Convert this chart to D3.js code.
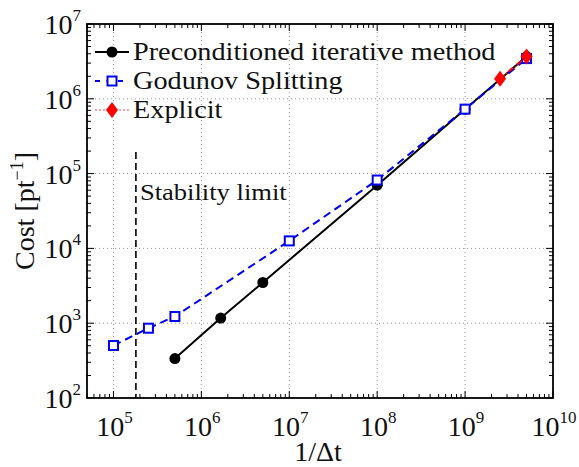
<!DOCTYPE html>
<html><head><meta charset="utf-8">
<script src="https://cdn.jsdelivr.net/npm/d3@7/dist/d3.min.js"></script>
<style>body{margin:0;background:#fff}svg{display:block}text{font-family:"Liberation Serif","Times New Roman",serif;fill:#111}</style>
</head><body><svg id="c" width="579" height="467"></svg>
<script>
const precondX = [5e5, 1.66e6, 5e6, 1e8, 1e9, 5e9];
const precondY = [337, 1170, 3500, 70000, 727000, 3.67e6];
const godunovX = [1e5, 2.5e5, 5e5, 1e7, 1e8, 1e9, 5e9];
const godunovY = [503, 857, 1230, 12600, 82000, 727000, 3.45e6];
const explicitX = [2.5e9, 5e9];
const explicitY = [1.85e6, 3.67e6];
const stabilityX = 1.8e5;
const stabilityTop = 1.95e5;
const xDecades = [5, 6, 7, 8, 9, 10];
const yDecades = [2, 3, 4, 5, 6, 7];
const legendLabels = ["Preconditioned iterative method", "Godunov Splitting", "Explicit"];

const svg = d3.select("#c");
const L = 87, R = 553, T = 24, B = 398;
const x = d3.scaleLog().domain([5e4, 1e10]).range([L, R]);
const y = d3.scaleLog().domain([1e2, 1e7]).range([B, T]);
const stretch = sel => { const n = sel.node(); const w = n.getComputedTextLength(); sel.attr("textLength", w * 1.13).attr("lengthAdjust", "spacingAndGlyphs"); return sel; };

// grid
const g = svg.append("g");
xDecades.forEach(d => { const v = Math.pow(10, d); if (v < 1e10) g.append("line").attr("x1", x(v)).attr("x2", x(v)).attr("y1", T).attr("y2", B).attr("stroke", "#999").attr("stroke-width", 1).attr("stroke-dasharray", "1,3"); });
yDecades.forEach(d => { const v = Math.pow(10, d); if (d > 2 && d < 7) g.append("line").attr("x1", L).attr("x2", R).attr("y1", y(v)).attr("y2", y(v)).attr("stroke", "#999").attr("stroke-width", 1).attr("stroke-dasharray", "1,3"); });

// ticks (inward, all four sides)
const isMajor = v => Math.abs(Math.log10(v) - Math.round(Math.log10(v))) < 1e-9;
x.ticks().forEach(v => {
  const len = isMajor(v) ? 7 : 4;
  g.append("line").attr("x1", x(v)).attr("x2", x(v)).attr("y1", B).attr("y2", B - len).attr("stroke", "#000").attr("stroke-width", 1);
  g.append("line").attr("x1", x(v)).attr("x2", x(v)).attr("y1", T).attr("y2", T + len).attr("stroke", "#000").attr("stroke-width", 1);
});
y.ticks().forEach(v => {
  const len = isMajor(v) ? 7 : 4;
  g.append("line").attr("y1", y(v)).attr("y2", y(v)).attr("x1", L).attr("x2", L + len).attr("stroke", "#000").attr("stroke-width", 1);
  g.append("line").attr("y1", y(v)).attr("y2", y(v)).attr("x1", R).attr("x2", R - len).attr("stroke", "#000").attr("stroke-width", 1);
});

// stability limit
svg.append("line").attr("x1", x(stabilityX)).attr("x2", x(stabilityX)).attr("y1", y(stabilityTop)).attr("y2", B)
  .attr("stroke", "#000").attr("stroke-width", 1.6).attr("stroke-dasharray", "7,4");
stretch(svg.append("text").attr("x", x(stabilityX) + 4).attr("y", 200).attr("font-size", 23.5).text("Stability limit"));

// lines
const line = d3.line().x(d => x(d[0])).y(d => y(d[1]));
const pre = precondX.map((v, i) => [v, precondY[i]]);
const god = godunovX.map((v, i) => [v, godunovY[i]]);
const exp = explicitX.map((v, i) => [v, explicitY[i]]);
svg.append("path").attr("d", line(pre)).attr("fill", "none").attr("stroke", "#000").attr("stroke-width", 2);
svg.selectAll(".pc").data(pre).join("circle").attr("cx", d => x(d[0])).attr("cy", d => y(d[1])).attr("r", 5.5).attr("fill", "#000");
svg.append("path").attr("d", line(god)).attr("fill", "none").attr("stroke", "#0000ee").attr("stroke-width", 2).attr("stroke-dasharray", "8,5");
svg.selectAll(".gs").data(god).join("rect").attr("x", d => x(d[0]) - 4.5).attr("y", d => y(d[1]) - 4.5).attr("width", 9).attr("height", 9).attr("fill", "#fff").attr("stroke", "#0000ee").attr("stroke-width", 2);
svg.append("path").attr("d", line(exp)).attr("fill", "none").attr("stroke", "#ff0000").attr("stroke-width", 2).attr("stroke-dasharray", "6,2,1,2");
const diamond = (cx, cy, s) => `M${cx},${cy - s}L${cx + s * 0.75},${cy}L${cx},${cy + s}L${cx - s * 0.75},${cy}Z`;
svg.selectAll(".ex").data(exp).join("path").attr("d", d => diamond(x(d[0]), y(d[1]), 8)).attr("fill", "#ff0000");

// frame
svg.append("rect").attr("x", L).attr("y", T).attr("width", R - L).attr("height", B - T).attr("fill", "none").attr("stroke", "#000").attr("stroke-width", 1.8);

// tick labels
xDecades.forEach(d => {
  const t = svg.append("text").attr("x", x(Math.pow(10, d)) + 1).attr("y", 436).attr("font-size", 28).attr("text-anchor", "middle");
  t.append("tspan").text("10");
  t.append("tspan").attr("dy", -13).attr("font-size", 17).text(d);
});
yDecades.forEach(d => {
  const t = svg.append("text").attr("x", 81).attr("y", y(Math.pow(10, d)) + 10).attr("font-size", 28).attr("text-anchor", "end");
  t.append("tspan").text("10");
  t.append("tspan").attr("dy", -13).attr("font-size", 17).text(d);
});

// axis labels
svg.append("text").attr("x", 318).attr("y", 461).attr("font-size", 28).attr("text-anchor", "middle").text("1/Δt");
const yl = svg.append("text").attr("transform", "translate(34,211) rotate(-90)").attr("font-size", 28).attr("text-anchor", "middle");
yl.append("tspan").text("Cost [pt");
yl.append("tspan").attr("dy", -11).attr("font-size", 18).text("−1");
yl.append("tspan").attr("dy", 11).text("]");

// legend
const ly = [52, 81, 110];
const lx0 = 95, lx1 = 129, lxm = 112;
svg.append("line").attr("x1", lx0).attr("x2", lx1).attr("y1", ly[0]).attr("y2", ly[0]).attr("stroke", "#000").attr("stroke-width", 2);
svg.append("circle").attr("cx", lxm).attr("cy", ly[0]).attr("r", 5.5).attr("fill", "#000");
svg.append("line").attr("x1", lx0).attr("x2", lx1).attr("y1", ly[1]).attr("y2", ly[1]).attr("stroke", "#0000ee").attr("stroke-width", 2).attr("stroke-dasharray", "5,6.5");
svg.append("rect").attr("x", lxm - 4.5).attr("y", ly[1] - 4.5).attr("width", 9).attr("height", 9).attr("fill", "#fff").attr("stroke", "#0000ee").attr("stroke-width", 2);
svg.append("line").attr("x1", lx0).attr("x2", lx1).attr("y1", ly[2]).attr("y2", ly[2]).attr("stroke", "#ff8080").attr("stroke-width", 1.5).attr("stroke-dasharray", "2,2");
svg.append("path").attr("d", diamond(lxm, ly[2], 8)).attr("fill", "#ff0000");
legendLabels.forEach((s, i) => stretch(svg.append("text").attr("x", 133).attr("y", ly[i] + 8).attr("font-size", 25).text(s)));
</script></body></html>
